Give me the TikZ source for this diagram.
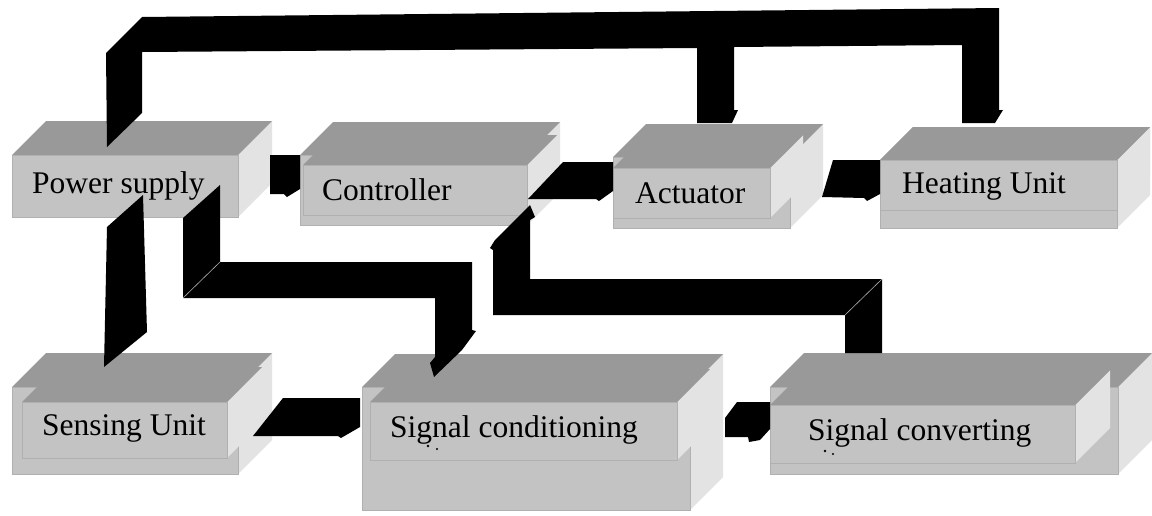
\documentclass[tikz,border=0pt]{standalone}
\usepackage{fontspec}
\setmainfont{Liberation Serif}
\definecolor{topgray}{HTML}{999999}
\definecolor{frontgray}{HTML}{C3C3C3}
\definecolor{sidegray}{HTML}{E3E3E3}
\definecolor{edgegray}{HTML}{B0B0B0}
% a shaded block: side face, top face and a named front face
% #1 name, #2 x, #3 y (top-left of front face), #4 width, #5 height, #6 depth
\newcommand\drawcube[6]{%
  \fill[sideface] (#2+#4,#3) -- ++(#6,-#6) -- ++(0,#5) -- ++(-#6,#6) -- cycle;
  \fill[topface] (#2,#3) -- ++(#6,-#6) -- ++(#4,0) -- ++(-#6,#6) -- cycle;
  \node[frontface, minimum width=#4pt, minimum height=#5pt] (#1) at (#2,#3) {};
}
\begin{document}
\begin{tikzpicture}[x=1pt,y=-1pt,
  topface/.style={fill=topgray},
  sideface/.style={fill=sidegray},
  frontface/.style={fill=frontgray, draw=edgegray, line width=0.8pt,
    inner sep=0pt, outer sep=0pt, anchor=north west},
  boxlabel/.style={anchor=base west, inner sep=0pt,
    font=\fontsize{31.5}{36}\selectfont},
  wire/.style={fill=black},
  crease/.style={draw=edgegray, line width=0.6pt}]
\useasboundingbox[fill=white] (0,0) rectangle (1152,515);

% outer blocks
\drawcube{ctrl-back}{300}{155}{227}{70}{33}
\drawcube{act-back}{613}{157}{177}{71}{33}
\drawcube{heat-back}{880}{160}{237}{68}{33}
\drawcube{sens-back}{12}{387}{226}{87}{34}
\drawcube{cond-back}{362}{387}{328}{123}{33}
\drawcube{conv-back}{770}{387}{348}{87}{34}

% front blocks
\drawcube{ps}{12}{155}{226}{62}{34}
\drawcube{ctrl}{303}{165}{224}{50}{30}
\drawcube{act}{613}{168}{157}{50}{33}
\drawcube{heat}{880}{160}{237}{50}{33}
\drawcube{sens}{22}{402}{205}{56}{35}
\drawcube{cond}{370}{402}{307}{58}{33}
\drawcube{conv}{770}{405}{305}{58}{35}

% power bus from the supply to actuator and heating unit
\fill[wire] (106,53) -- (142,17) -- (999,8) -- (999,110) -- (1003,110)
  -- (995,123) -- (962,123) -- (962,45) -- (734,47) -- (734,110)
  -- (738,110) -- (732,123) -- (697,123) -- (697,48) -- (142,52)
  -- (142,113) -- (107,147) -- cycle;

% power supply -> controller
\fill[wire] (270,155) -- (300,155) -- (300,189) -- (287,197) -- (284,194)
  -- (270,194) -- cycle;

% controller -> actuator
\fill[wire] (528,199) -- (563,162) -- (613,162) -- (613,191) -- (599,201)
  -- (596,199) -- cycle;

% actuator -> heating unit
\fill[wire] (822,197) -- (833,160) -- (880,160) -- (880,194) -- (867,201)
  -- (864,198) -- cycle;

% power supply -> sensing unit
\fill[wire] (107,227) -- (143,195) -- (147,332) -- (104,367) -- cycle;

% power supply -> signal conditioning
\fill[wire] (183,218) -- (220,185) -- (220,262) -- (472,262) -- (472,330)
  -- (476,331) -- (462,350) -- (434,377) -- (430,363) -- (435,357)
  -- (435,298) -- (183,298) -- cycle;
\draw[crease] (183,298) -- (220,262);

% sensing unit -> signal conditioning
\fill[wire] (253,436) -- (283,398) -- (360,398) -- (360,427) -- (341,438)
  -- (338,436) -- cycle;

% signal converting -> signal conditioning
\fill[wire] (725,437) -- (725,418) -- (737,402) -- (770,402) -- (770,429)
  -- (760,440) -- (749,442) -- (748,437) -- cycle;

% signal converting -> controller (feedback)
\fill[wire] (882,353) -- (882,279) -- (530,279) -- (530,220) -- (535,217)
  -- (530,205) -- (495,240) -- (490,248) -- (493,250) -- (493,315)
  -- (845,315) -- (845,353) -- cycle;
\draw[crease] (845,315) -- (882,279);

% labels
\node[boxlabel] (ps-text)   at (32,193)  {Power supply};
\node[boxlabel] (ctrl-text) at (322,200) {Controller};
\node[boxlabel] (act-text)  at (635,203) {Actuator};
\node[boxlabel] (heat-text) at (902,193) {Heating Unit};
\node[boxlabel] (sens-text) at (42,435)  {Sensing Unit};
\node[boxlabel] (cond-text) at (390,437) {Signal conditioning};
\node[boxlabel] (conv-text) at (808,440) {Signal converting};

% stray marks below the two signal labels
\fill (428,446) circle (1.3);
\fill (437,449) circle (1.1);
\fill (825,451) circle (1.3);
\fill (833,454) circle (1.1);
\end{tikzpicture}
\end{document}
